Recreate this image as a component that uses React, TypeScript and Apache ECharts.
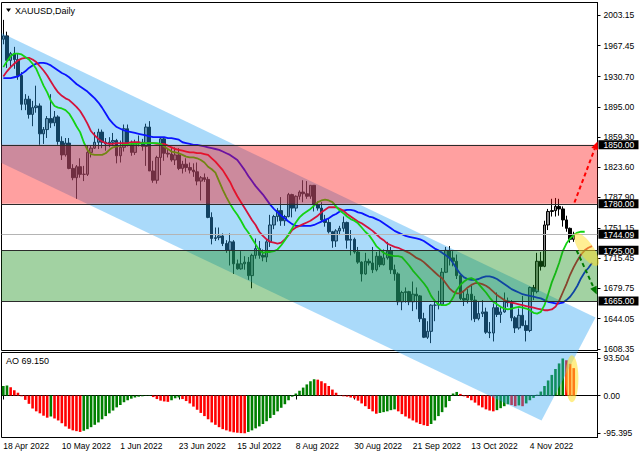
import React, { useEffect, useRef } from 'react';
import * as echarts from 'echarts';

const FONT = '"Liberation Sans", Arial, sans-serif';
const BAR_COUNT = 163;

const timeLabels = ['18 Apr 2022', '10 May 2022', '1 Jun 2022', '23 Jun 2022', '15 Jul 2022', '8 Aug 2022', '30 Aug 2022', '21 Sep 2022', '13 Oct 2022', '4 Nov 2022'];
const priceTicks = [1608.35, 1644.05, 1679.75, 1715.45, 1751.15, 1787.9, 1823.6, 1859.3, 1895.0, 1930.7, 1967.45, 2003.15];
const aoTicks = [93.504, 0, -95.395];

const opens = [
  1975, 1979, 1950, 1958, 1951, 1932, 1898, 1904, 1886, 1894,
  1896, 1863, 1868, 1881, 1876, 1883, 1854, 1838, 1852, 1822,
  1811, 1824, 1815, 1815, 1841, 1846, 1853, 1865, 1853, 1851,
  1853, 1855, 1837, 1847, 1869, 1850, 1841, 1852, 1853, 1848,
  1871, 1819, 1808, 1835, 1857, 1840, 1839, 1832, 1838, 1822,
  1827, 1823, 1820, 1818, 1807, 1811, 1809, 1764, 1739, 1740,
  1742, 1733, 1725, 1735, 1709, 1703, 1709, 1711, 1695, 1719,
  1727, 1719, 1717, 1735, 1755, 1765, 1772, 1760, 1765, 1791,
  1775, 1789, 1794, 1792, 1789, 1802, 1779, 1775, 1761, 1758,
  1747, 1736, 1748, 1751, 1758, 1737, 1738, 1723, 1711, 1697,
  1712, 1710, 1702, 1718, 1708, 1716, 1724, 1702, 1697, 1664,
  1675, 1676, 1664, 1673, 1671, 1644, 1622, 1629, 1660, 1660,
  1661, 1699, 1725, 1716, 1712, 1695, 1668, 1666, 1673, 1666,
  1644, 1650, 1652, 1628, 1627, 1657, 1649, 1652, 1665, 1663,
  1645, 1633, 1648, 1636, 1630, 1681, 1676, 1712, 1706, 1755,
  1771, 1772, 1777, 1774, 1761, 1751, 1738,
];
const closes = [
  1979, 1950, 1958, 1951, 1932, 1898, 1904, 1886, 1894, 1896,
  1863, 1868, 1881, 1876, 1883, 1854, 1838, 1852, 1822, 1811,
  1824, 1815, 1815, 1841, 1846, 1853, 1865, 1853, 1851, 1853,
  1855, 1837, 1847, 1869, 1850, 1841, 1852, 1853, 1848, 1871,
  1819, 1808, 1835, 1857, 1840, 1839, 1832, 1838, 1822, 1827,
  1823, 1820, 1818, 1807, 1811, 1809, 1764, 1739, 1740, 1742,
  1733, 1725, 1735, 1709, 1703, 1709, 1711, 1695, 1719, 1727,
  1719, 1717, 1735, 1755, 1765, 1772, 1760, 1765, 1791, 1775,
  1789, 1794, 1792, 1789, 1802, 1779, 1775, 1761, 1758, 1747,
  1736, 1748, 1751, 1758, 1737, 1738, 1723, 1711, 1697, 1712,
  1710, 1702, 1718, 1708, 1716, 1724, 1702, 1697, 1664, 1675,
  1676, 1664, 1673, 1671, 1644, 1622, 1629, 1660, 1660, 1661,
  1699, 1725, 1716, 1712, 1695, 1668, 1666, 1673, 1666, 1644,
  1650, 1652, 1628, 1627, 1657, 1649, 1652, 1665, 1663, 1645,
  1633, 1648, 1636, 1630, 1681, 1676, 1712, 1706, 1755, 1771,
  1772, 1777, 1774, 1761, 1751, 1738, 1744.09,
];
const highs = [
  1998, 1984, 1960, 1966, 1958, 1936, 1910, 1908, 1902, 1920,
  1899, 1871, 1884, 1910, 1890, 1885, 1860, 1858, 1858, 1827,
  1826, 1834, 1825, 1849, 1849, 1865, 1869, 1868, 1858, 1859,
  1864, 1857, 1855, 1874, 1874, 1855, 1856, 1861, 1857, 1875,
  1878, 1831, 1837, 1858, 1858, 1846, 1846, 1847, 1846, 1831,
  1834, 1829, 1828, 1829, 1813, 1816, 1812, 1770, 1752, 1752,
  1745, 1737, 1745, 1737, 1714, 1724, 1718, 1717, 1721, 1739,
  1736, 1726, 1738, 1767, 1767, 1775, 1788, 1767, 1793, 1792,
  1790, 1796, 1808, 1807, 1802, 1802, 1783, 1782, 1767, 1763,
  1748, 1750, 1754, 1765, 1759, 1749, 1740, 1729, 1712, 1722,
  1715, 1729, 1723, 1726, 1726, 1735, 1729, 1708, 1699, 1677,
  1681, 1677, 1688, 1681, 1672, 1651, 1641, 1661, 1667, 1677,
  1704, 1729, 1730, 1724, 1720, 1697, 1676, 1679, 1683, 1671,
  1665, 1666, 1657, 1640, 1662, 1675, 1659, 1675, 1669, 1666,
  1647, 1656, 1671, 1642, 1682, 1684, 1722, 1723, 1760, 1774,
  1786, 1787, 1786, 1777, 1766, 1752, 1747,
];
const lows = [
  1969, 1941, 1941, 1940, 1927, 1891, 1891, 1881, 1872, 1888,
  1850, 1851, 1858, 1870, 1872, 1850, 1832, 1836, 1821, 1808,
  1786, 1811, 1807, 1813, 1835, 1845, 1845, 1846, 1843, 1847,
  1849, 1828, 1829, 1842, 1848, 1837, 1838, 1848, 1843, 1825,
  1819, 1805, 1804, 1814, 1831, 1835, 1830, 1826, 1820, 1816,
  1818, 1816, 1812, 1802, 1784, 1806, 1763, 1732, 1736, 1737,
  1730, 1722, 1707, 1697, 1702, 1702, 1702, 1690, 1680, 1715,
  1715, 1712, 1711, 1729, 1750, 1759, 1754, 1754, 1764, 1764,
  1771, 1785, 1782, 1786, 1786, 1771, 1772, 1759, 1753, 1745,
  1728, 1729, 1743, 1747, 1727, 1719, 1721, 1709, 1688, 1696,
  1707, 1698, 1700, 1705, 1707, 1714, 1697, 1689, 1660, 1654,
  1663, 1660, 1653, 1655, 1640, 1621, 1620, 1615, 1641, 1655,
  1659, 1698, 1707, 1706, 1691, 1666, 1659, 1662, 1642, 1640,
  1642, 1646, 1626, 1621, 1617, 1646, 1639, 1651, 1658, 1641,
  1627, 1631, 1635, 1617, 1628, 1666, 1674, 1701, 1705, 1749,
  1765, 1765, 1766, 1753, 1747, 1734, 1735,
];

// Alligator lines (already shifted forward)
const lips = [
  1942, 1949, 1955, 1958, 1958, 1957, 1954, 1951, 1946, 1940,
  1930, 1920, 1912, 1902, 1896, 1894, 1893, 1891, 1887, 1880,
  1872, 1865, 1853, 1844, 1839, 1838, 1838, 1838, 1840, 1844,
  1847, 1848, 1849, 1850, 1850, 1851, 1851, 1851, 1852, 1852,
  1852, 1852, 1852, 1851, 1848, 1845, 1842, 1841, 1840, 1838,
  1836, 1835, 1835, 1834, 1832, 1829, 1824, 1821, 1817, 1807,
  1797, 1788, 1780, 1773, 1767, 1760, 1752, 1746, 1739, 1732,
  1725, 1722, 1723, 1723, 1724, 1726, 1731, 1737, 1744, 1751,
  1758, 1764, 1768, 1771, 1774, 1778, 1782, 1784, 1785, 1784,
  1782, 1777, 1772, 1769, 1765, 1762, 1760, 1757, 1752, 1747,
  1743, 1737, 1730, 1726, 1722, 1720, 1719, 1718, 1718, 1717,
  1712, 1707, 1701, 1696, 1691, 1686, 1680, 1671, 1665, 1661,
  1660, 1660, 1662, 1669, 1678, 1684, 1688, 1691, 1692, 1690,
  1685, 1680, 1675, 1669, 1664, 1661, 1658, 1656, 1655, 1656,
  1657, 1658, 1657, 1656, 1654, 1651, 1650, 1652, 1660, 1673,
  1687, 1698, 1710, 1724, 1733, 1739, 1743, 1746, 1747, 1747,
];
const teeth = [
  1931, 1937, 1942, 1946, 1950, 1952, 1953, 1953, 1951, 1948,
  1943, 1938, 1932, 1925, 1918, 1912, 1908, 1905, 1903, 1899,
  1895, 1890, 1883, 1875, 1866, 1861, 1857, 1854, 1852, 1851,
  1851, 1852, 1852, 1852, 1852, 1853, 1853, 1853, 1852, 1852,
  1852, 1852, 1851, 1851, 1851, 1849, 1847, 1845, 1844, 1843,
  1842, 1841, 1841, 1840, 1840, 1839, 1838, 1834, 1830, 1825,
  1820, 1813, 1806, 1797, 1789, 1782, 1775, 1768, 1761, 1755,
  1747, 1742, 1738, 1735, 1734, 1733, 1734, 1738, 1743, 1749,
  1752, 1754, 1756, 1758, 1760, 1763, 1766, 1770, 1773, 1776,
  1776, 1776, 1774, 1772, 1768, 1765, 1762, 1759, 1757, 1754,
  1751, 1748, 1744, 1740, 1737, 1733, 1731, 1729, 1728, 1726,
  1724, 1722, 1719, 1716, 1714, 1711, 1707, 1703, 1699, 1695,
  1692, 1686, 1680, 1676, 1674, 1674, 1677, 1681, 1684, 1686,
  1686, 1685, 1683, 1680, 1676, 1672, 1669, 1666, 1664, 1663,
  1662, 1661, 1660, 1659, 1658, 1657, 1656, 1655, 1654, 1654,
  1655, 1658, 1665, 1675, 1685, 1696, 1705, 1713, 1720, 1725,
  1728, 1730,
];
const jaw = [
  1929, 1929, 1929, 1930, 1931, 1934, 1937, 1941, 1944, 1946,
  1947, 1947, 1946, 1944, 1941, 1938, 1935, 1933, 1930, 1926,
  1922, 1919, 1916, 1913, 1909, 1905, 1900, 1894, 1887, 1880,
  1875, 1871, 1869, 1867, 1866, 1865, 1864, 1863, 1862, 1861,
  1860, 1859, 1859, 1859, 1859, 1858, 1858, 1857, 1856, 1853,
  1852, 1851, 1850, 1850, 1849, 1848, 1847, 1846, 1845, 1844,
  1842, 1840, 1838, 1835, 1832, 1826, 1820, 1813, 1807, 1801,
  1796, 1791, 1785, 1779, 1774, 1770, 1766, 1763, 1759, 1756,
  1754, 1754, 1754, 1754, 1754, 1755, 1757, 1759, 1761, 1763,
  1766, 1768, 1771, 1772, 1773, 1773, 1772, 1770, 1769, 1767,
  1765, 1764, 1762, 1760, 1757, 1754, 1751, 1748, 1746, 1744,
  1742, 1741, 1740, 1739, 1738, 1736, 1733, 1730, 1727, 1725,
  1722, 1719, 1716, 1710, 1703, 1697, 1693, 1691, 1690, 1690,
  1691, 1693, 1694, 1694, 1693, 1691, 1688, 1685, 1682, 1679,
  1677, 1675, 1673, 1672, 1671, 1670, 1669, 1668, 1666, 1664,
  1663, 1662, 1662, 1663, 1666, 1670, 1676, 1683, 1692, 1699,
  1704, 1710,
];

const ao = [
  24, 25, 21, 13, 7, -2, -11, -21, -33, -40,
  -45, -51, -56, -53, -58, -63, -70, -78, -84, -88,
  -90, -92, -89, -85, -80, -74, -68, -60, -52, -45,
  -38, -30, -24, -17, -12, -8, -5, -3, -2, -1,
  1, -4, -9, -13, -15, -16, -12, -7, -5, -9,
  -14, -20, -28, -36, -44, -52, -60, -68, -74, -80,
  -85, -88, -91, -93, -94, -95, -95.395, -92, -88, -83,
  -78, -72, -65, -57, -49, -40, -31, -22, -12, -3,
  5, 12, 20, 28, 36, 41, 40, 36, 31, 24,
  15, 7, 1, -2, -3, -5, -7, -13, -20, -27,
  -34, -40, -46, -44, -42, -40, -37, -35, -40, -47,
  -53, -58, -63, -68, -72, -75, -77, -72, -63, -52,
  -42, -30, -14, 5, 9, 4, -2, -6, -12, -18,
  -25, -30, -35, -38, -40, -37, -32, -27, -22, -24,
  -27, -25, -27, -20, -12, -6, 2, 10, 24, 38,
  52, 67, 81, 93.504, 89, 80, 69.15,
];

// annotations, in (bar index, price) terms
const levels = [1850, 1780, 1725, 1665];
const currentPrice = 1744.09;
const resistanceZone = [1780, 1850];
const supportZone = [1665, 1725];
const channelUpper = [[-0.5, 1982.4], [161.95, 1645.4]];
const channelLower = [[-0.5, 1828.4], [147.2, 1523.4]];
const upArrow = [[156.2, 1781.6], [162.5, 1853.9]];
const downArrow = [[156.8, 1724.8], [162.3, 1672.7]];
const priceEllipse = [159.5, 1726];
const aoEllipse = [155.5, 42];

export default function App() {
  const ref = useRef<HTMLDivElement>(null);

  useEffect(() => {
    document.body.style.margin = '0';
    const chart = echarts.init(ref.current as HTMLDivElement, null, { renderer: 'svg' });
    const cats = Array.from({ length: BAR_COUNT }, (_, i) => String(i));
    const candles = opens.map((o, i) => [o, closes[i], lows[i], highs[i]]);
    const aoData = ao.map((v, i) => ({
      value: v,
      itemStyle: { color: i === 0 || v > ao[i - 1] ? '#008000' : '#ff0000' },
    }));
    const showTick = (idx: number) => idx % 16 === 0 && idx / 16 < timeLabels.length;
    const lineSeries = (data: number[], color: string) => ({
      type: 'line',
      xAxisIndex: 0,
      yAxisIndex: 0,
      data,
      z: 3,
      silent: true,
      symbol: 'none',
      showSymbol: false,
      lineStyle: { color, width: 1.8 },
    });

    chart.setOption({
      animation: false,
      backgroundColor: '#fff',
      grid: [
        { left: 1.5, top: 2.5, width: 596, height: 348, show: true, borderColor: '#000', borderWidth: 1 },
        { left: 1.5, top: 352.5, width: 596, height: 85, show: true, borderColor: '#000', borderWidth: 1 },
      ],
      xAxis: [
        { type: 'category', gridIndex: 0, data: cats, boundaryGap: true, show: false },
        {
          type: 'category',
          gridIndex: 1,
          data: cats,
          boundaryGap: true,
          axisLine: { show: true, lineStyle: { color: '#000' } },
          axisTick: { show: true, alignWithLabel: true, length: 4, interval: (i: number) => showTick(i), lineStyle: { color: '#000' } },
          axisLabel: {
            interval: (i: number) => showTick(i),
            formatter: (_v: string, i: number) => (showTick(i) ? timeLabels[i / 16] : ''),
            align: 'left',
            margin: 4,
            color: '#000',
            fontSize: 8.5,
            fontFamily: FONT,
          },
          splitLine: { show: false },
        },
      ],
      yAxis: [
        {
          type: 'value',
          gridIndex: 0,
          position: 'right',
          min: 1606.3,
          max: 2018.55,
          axisLine: { show: true, lineStyle: { color: '#000' } },
          axisTick: { show: true, length: 3, customValues: priceTicks, lineStyle: { color: '#000' } },
          axisLabel: { customValues: priceTicks, formatter: (v: number) => v.toFixed(2), color: '#000', fontSize: 8.5, fontFamily: FONT, margin: 6 },
          splitLine: { show: false },
        },
        {
          type: 'value',
          gridIndex: 1,
          position: 'right',
          min: -106.05,
          max: 108.6,
          axisLine: { show: true, lineStyle: { color: '#000' } },
          axisTick: { show: true, length: 3, customValues: aoTicks, lineStyle: { color: '#000' } },
          axisLabel: {
            customValues: aoTicks,
            formatter: (v: number) => (v === 0 ? '0.00' : v.toFixed(3)),
            color: '#000',
            fontSize: 8.5,
            fontFamily: FONT,
            margin: 6,
          },
          splitLine: { show: false },
        },
      ],
      series: [
        {
          type: 'candlestick',
          xAxisIndex: 0,
          yAxisIndex: 0,
          z: 1,
          silent: true,
          barWidth: 3,
          data: candles,
          itemStyle: { color: '#8c8c8c', color0: '#000', borderColor: '#000', borderColor0: '#000', borderWidth: 1 },
        },
        lineSeries(jaw, '#0a14ff'),
        lineSeries(teeth, '#d3133c'),
        lineSeries(lips, '#14d214'),
        {
          type: 'bar',
          xAxisIndex: 1,
          yAxisIndex: 1,
          z: 1,
          silent: true,
          barWidth: 2.6,
          data: aoData,
        },
      ],
    });

    const xa = chart.convertToPixel({ xAxisIndex: 0 }, 0) as unknown as number;
    const xb = chart.convertToPixel({ xAxisIndex: 0 }, 1) as unknown as number;
    const step = xb - xa;
    const X = (i: number) => xa + i * step;
    const Y = (p: number) => chart.convertToPixel({ yAxisIndex: 0 }, p) as unknown as number;
    const YA = (v: number) => chart.convertToPixel({ yAxisIndex: 1 }, v) as unknown as number;
    const P = (pt: number[]) => [X(pt[0]), Y(pt[1])];
    const gridL = X(-0.5);
    const gridR = X(BAR_COUNT - 0.5);

    const els: any[] = [];
    // channel
    els.push({
      type: 'polygon',
      z: 2,
      silent: true,
      shape: { points: [P(channelUpper[0]), P(channelUpper[1]), P(channelLower[1]), P(channelLower[0])] },
      style: { fill: 'rgba(42,162,242,0.4)' },
    });
    // zones
    const zone = (z: number[], fill: string) => ({
      type: 'rect',
      z: 4,
      silent: true,
      shape: { x: gridL, y: Y(z[1]), width: gridR - gridL, height: Y(z[0]) - Y(z[1]) },
      style: { fill },
    });
    els.push(zone(resistanceZone, 'rgba(255,17,17,0.4)'));
    els.push(zone(supportZone, 'rgba(22,142,22,0.4)'));
    // level lines
    levels.forEach((lv) => {
      const y = Math.round(Y(lv)) + 0.5;
      els.push({ type: 'line', z: 5, silent: true, shape: { x1: gridL, y1: y, x2: gridR, y2: y }, style: { stroke: '#2b2b2b', lineWidth: 1 } });
    });
    {
      const y = Math.round(Y(currentPrice)) + 0.5;
      els.push({ type: 'line', z: 5, silent: true, shape: { x1: gridL, y1: y, x2: gridR, y2: y }, style: { stroke: '#b4b4b4', lineWidth: 1 } });
    }
    // ellipses
    els.push({
      type: 'ellipse',
      z: 5,
      silent: true,
      x: X(priceEllipse[0]),
      y: Y(priceEllipse[1]),
      rotation: 0.6,
      shape: { cx: 0, cy: 0, rx: 7, ry: 19.5 },
      style: { fill: 'rgba(255,224,40,0.5)' },
    });
    els.push({
      type: 'ellipse',
      z: 5,
      silent: true,
      x: X(aoEllipse[0]),
      y: YA(aoEllipse[1]),
      shape: { cx: 0, cy: 0, rx: 6.5, ry: 23.5 },
      style: { fill: 'rgba(255,224,40,0.55)' },
    });
    // arrows
    const arrow = (a: number[][], color: string) => {
      const [x1, y1] = P(a[0]);
      const [x2, y2] = P(a[1]);
      const dx = x2 - x1, dy = y2 - y1;
      const len = Math.hypot(dx, dy);
      const ux = dx / len, uy = dy / len;
      const hl = 8, hw = 3.5;
      const bx = x2 - ux * hl, by = y2 - uy * hl;
      els.push({ type: 'line', z: 5, silent: true, shape: { x1, y1, x2: bx, y2: by }, style: { stroke: color, lineWidth: 2, lineDash: [4, 3] } });
      els.push({
        type: 'polygon',
        z: 5,
        silent: true,
        shape: { points: [[x2, y2], [bx - uy * hw, by + ux * hw], [bx + uy * hw, by - ux * hw]] },
        style: { fill: color },
      });
    };
    arrow(upArrow, '#ff0000');
    arrow(downArrow, '#007a00');
    // price boxes
    [...levels, currentPrice].forEach((v) => {
      const y = Y(v);
      els.push({ type: 'rect', z: 6, silent: true, shape: { x: gridR + 1, y: y - 4.5, width: 40, height: 9 }, style: { fill: '#000' } });
      els.push({
        type: 'text',
        z: 7,
        silent: true,
        x: gridR + 6,
        y: y + 0.5,
        style: { text: v.toFixed(2), fill: '#fff', font: `8.5px ${FONT}`, align: 'left', verticalAlign: 'middle', textAlign: 'left', textVerticalAlign: 'middle' },
      });
    });
    // titles
    els.push({ type: 'polygon', z: 7, silent: true, shape: { points: [[6, 8.5], [11, 8.5], [8.5, 12]] }, style: { fill: '#000' } });
    els.push({
      type: 'text',
      z: 7,
      silent: true,
      x: 15,
      y: 10.5,
      style: { text: 'XAUUSD,Daily', fill: '#000', font: `9px ${FONT}`, align: 'left', verticalAlign: 'middle', textAlign: 'left', textVerticalAlign: 'middle' },
    });
    els.push({
      type: 'text',
      z: 7,
      silent: true,
      x: 6,
      y: 361,
      style: { text: 'AO ' + ao[ao.length - 1].toFixed(3), fill: '#000', font: `9px ${FONT}`, align: 'left', verticalAlign: 'middle', textAlign: 'left', textVerticalAlign: 'middle' },
    });

    chart.setOption({ graphic: { elements: els } });

    return () => chart.dispose();
  }, []);

  return <div ref={ref} style={{ width: 640, height: 457 }} />;
}
